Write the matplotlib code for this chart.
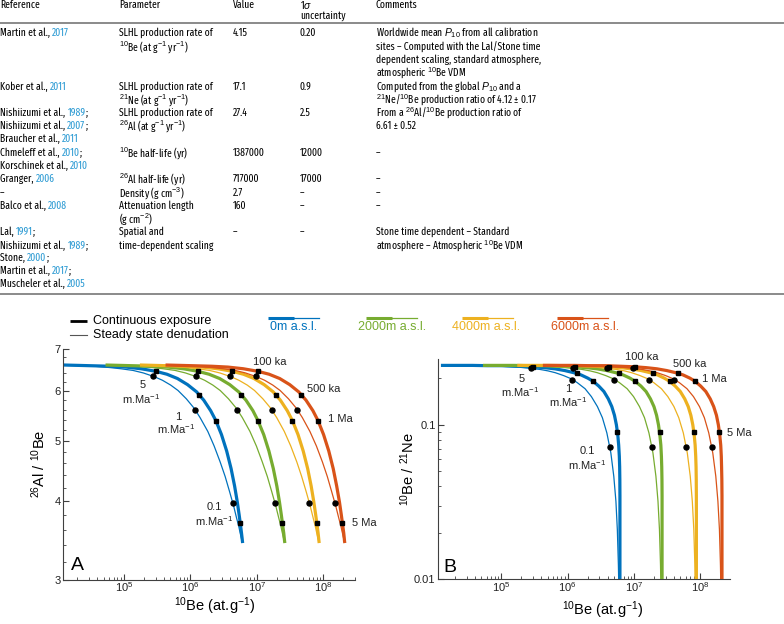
import numpy as np
import matplotlib
matplotlib.use('Agg')
import matplotlib.pyplot as plt
from matplotlib.ticker import LogLocator, FixedLocator, NullFormatter, LogFormatterMathtext, FormatStrFormatter

# ---------------- data ----------------
altitudes = ['0m a.s.l.', '2000m a.s.l.', '4000m a.s.l.', '6000m a.s.l.']
colors = ['#0072BD', '#77AC30', '#EDB120', '#D95319']

# continuous exposure (thick lines): 10Be (at/g) for each altitude
be10_exposure = [
    [1.23e4, 2.15e4, 3.67e4, 6.11e4, 1.07e5, 1.81e5, 3e5, 4.44e5, 6.4e5, 9.08e5, 1.24e6, 1.59e6, 2.02e6, 2.42e6,
     2.94e6, 3.52e6, 4.1e6, 4.63e6, 5.08e6, 5.43e6, 5.69e6, 5.88e6, 6.01e6, 6.08e6, 6.12e6, 6.14e6, 6.14e6,
     6.14e6, 6.14e6, 6.14e6, 6.14e6],
    [5.29e4, 9.25e4, 1.58e5, 2.63e5, 4.59e5, 7.83e5, 1.29e6, 1.91e6, 2.76e6, 3.92e6, 5.33e6, 6.86e6, 8.73e6, 1.04e7,
     1.27e7, 1.52e7, 1.77e7, 2e7, 2.19e7, 2.34e7, 2.45e7, 2.54e7, 2.59e7, 2.62e7, 2.64e7, 2.65e7, 2.65e7,
     2.65e7, 2.65e7, 2.65e7, 2.65e7],
    [1.74e5, 3.04e5, 5.21e5, 8.67e5, 1.51e6, 2.58e6, 4.25e6, 6.3e6, 9.08e6, 1.29e7, 1.76e7, 2.26e7, 2.87e7, 3.43e7,
     4.17e7, 4.99e7, 5.82e7, 6.57e7, 7.2e7, 7.7e7, 8.07e7, 8.35e7, 8.52e7, 8.62e7, 8.68e7, 8.71e7, 8.72e7,
     8.72e7, 8.72e7, 8.72e7, 8.72e7],
    [4.23e5, 7.39e5, 1.27e6, 2.11e6, 3.67e6, 6.25e6, 1.03e7, 1.53e7, 2.21e7, 3.13e7, 4.26e7, 5.49e7, 6.98e7, 8.33e7,
     1.01e8, 1.21e8, 1.41e8, 1.59e8, 1.75e8, 1.87e8, 1.96e8, 2.03e8, 2.07e8, 2.09e8, 2.11e8, 2.12e8, 2.12e8,
     2.12e8, 2.12e8, 2.12e8, 2.12e8],
]
al_be_exposure = [6.6, 6.59, 6.58, 6.57, 6.55, 6.51, 6.45, 6.38, 6.28, 6.14, 5.98, 5.8, 5.58, 5.38, 5.11, 4.81,
                  4.51, 4.23, 3.99, 3.8, 3.66, 3.56, 3.49, 3.45, 3.43, 3.42, 3.41, 3.41, 3.41, 3.41, 3.41]
be_ne_exposure = [0.242, 0.242, 0.242, 0.241, 0.241, 0.239, 0.237, 0.234, 0.23, 0.224, 0.217, 0.21, 0.2, 0.191,
                  0.178, 0.164, 0.147, 0.131, 0.115, 0.0998, 0.0864, 0.0738, 0.0625, 0.0534, 0.044, 0.0347,
                  0.027, 0.0202, 0.0152, 0.011, 0.00809]
n_exposure_a = 25  # panel A stops the exposure curves at ~10 Ma

# steady state denudation (thin lines)
be10_steady = [
    [1.40e4, 2.27e4, 3.62e4, 6.01e4, 8.98e4, 1.37e5, 1.96e5, 2.90e5, 3.80e5, 5.06e5, 6.52e5, 8.68e5, 1.14e6,
     1.40e6, 1.83e6, 2.28e6, 2.81e6, 3.34e6, 3.90e6, 4.48e6, 4.96e6, 5.34e6, 5.61e6, 5.82e6, 5.94e6],
    [6.02e4, 9.77e4, 1.56e5, 2.59e5, 3.87e5, 5.9e5, 8.44e5, 1.25e6, 1.64e6, 2.18e6, 2.81e6, 3.74e6, 4.92e6,
     6.05e6, 7.88e6, 9.85e6, 1.21e7, 1.44e7, 1.68e7, 1.93e7, 2.14e7, 2.3e7, 2.42e7, 2.51e7, 2.56e7],
    [1.98e5, 3.22e5, 5.13e5, 8.52e5, 1.27e6, 1.94e6, 2.78e6, 4.1e6, 5.38e6, 7.18e6, 9.23e6, 1.23e7, 1.62e7,
     1.99e7, 2.59e7, 3.24e7, 4e7, 4.73e7, 5.54e7, 6.36e7, 7.05e7, 7.57e7, 7.97e7, 8.27e7, 8.44e7],
    [4.81e5, 7.81e5, 1.25e6, 2.07e6, 3.09e6, 4.72e6, 6.75e6, 9.96e6, 1.31e7, 1.74e7, 2.24e7, 2.99e7, 3.93e7,
     4.84e7, 6.29e7, 7.88e7, 9.71e7, 1.15e8, 1.34e8, 1.54e8, 1.71e8, 1.84e8, 1.94e8, 2.01e8, 2.05e8],
]
al_be_steady = [6.59, 6.58, 6.57, 6.54, 6.51, 6.47, 6.41, 6.32, 6.24, 6.13, 6.01, 5.83, 5.63, 5.44, 5.17, 4.9,
                4.62, 4.38, 4.14, 3.93, 3.76, 3.65, 3.56, 3.5, 3.47]
be_ne_steady = [0.242, 0.242, 0.241, 0.24, 0.239, 0.237, 0.235, 0.231, 0.228, 0.223, 0.217, 0.208, 0.198, 0.187,
                0.171, 0.152, 0.131, 0.111, 0.0885, 0.0657, 0.0464, 0.032, 0.021, 0.0124, 0.00793]

# markers: 100 ka, 500 ka, 1 Ma, 5 Ma (squares) and 5, 1, 0.1 m/Ma (circles)
mark_be10_exposure = [[3e5, 1.36e6, 2.42e6, 5.64e6], [1.29e6, 5.86e6, 1.04e7, 2.43e7],
                      [4.25e6, 1.93e7, 3.43e7, 8e7], [1.03e7, 4.68e7, 8.33e7, 1.94e8]]
mark_al_be_exposure = [6.45, 5.92, 5.38, 3.69]
mark_be_ne_exposure = [0.237, 0.215, 0.191, 0.0891]
mark_be10_steady = [[2.78e5, 1.18e6, 4.32e6], [1.2e6, 5.07e6, 1.86e7],
                    [3.94e6, 1.67e7, 6.13e7], [9.58e6, 4.06e7, 1.49e8]]
mark_al_be_steady = [6.33, 5.6, 3.98]
mark_be_ne_steady = [0.232, 0.196, 0.072]

# ---------------- table text ----------------
refs = [(33, 'Martin et al., ', '2017', ''), (87, 'Kober et al., ', '2011', ''),
        (113, 'Nishiizumi et al., ', '1989', ';'), (126, 'Nishiizumi et al., ', '2007', ';'),
        (139, 'Braucher et al., ', '2011', ''), (153, 'Chmeleff et al., ', '2010', ';'),
        (166, 'Korschinek et al., ', '2010', ''), (179, 'Granger, ', '2006', ''),
        (193, '–', '', ''), (206, 'Balco et al., ', '2008', ''), (232, 'Lal, ', '1991', ';'),
        (246, 'Nishiizumi et al., ', '1989', ';'), (258, 'Stone, ', '2000', ';'),
        (271, 'Martin et al., ', '2017', ';'), (284, 'Muscheler et al., ', '2005', '')]
params = [(33, 'SLHL production rate of'), (47, r'$^{10}$Be (at g$^{-1}$ yr$^{-1}$)'),
          (87, 'SLHL production rate of'), (100, r'$^{21}$Ne (at g$^{-1}$ yr$^{-1}$)'),
          (113, 'SLHL production rate of'), (126, r'$^{26}$Al (at g$^{-1}$ yr$^{-1}$)'),
          (153, r'$^{10}$Be half-life (yr)'), (179, r'$^{26}$Al half-life (yr)'),
          (193, r'Density (g cm$^{-3}$)'), (206, 'Attenuation length'), (219, r'(g cm$^{-2}$)'),
          (232, 'Spatial and'), (246, 'time-dependent scaling')]
values = [(33, '4.15'), (87, '17.1'), (113, '27.4'), (153, '1387000'), (179, '717000'),
          (193, '2.7'), (206, '160'), (232, '–')]
sigmas = [(33, '0.20'), (87, '0.9'), (113, '2.5'), (153, '12000'), (179, '17000'),
          (193, '–'), (206, '–'), (232, '–')]
comments = [(33, r'Worldwide mean $P_{10}$ from all calibration'), (47, 'sites – Computed with the Lal/Stone time'),
            (60, 'dependent scaling, standard atmosphere,'), (73, r'atmospheric $^{10}$Be VDM'),
            (87, r'Computed from the global $P_{10}$ and a'),
            (100, r'$^{21}$Ne/$^{10}$Be production ratio of 4.12 ± 0.17'),
            (113, r'From a $^{26}$Al/$^{10}$Be production ratio of'), (126, '6.61 ± 0.52'),
            (153, '–'), (179, '–'), (193, '–'), (206, '–'),
            (232, 'Stone time dependent – Standard'), (246, r'atmosphere – Atmospheric $^{10}$Be VDM')]

cite_blue = '#2b9ad3'
table_font = 'Fira Sans Extra Condensed'

plt.rcParams['font.family'] = ['Liberation Sans', 'DejaVu Sans']
plt.rcParams['mathtext.fontset'] = 'custom'
plt.rcParams['mathtext.rm'] = 'Liberation Sans'
plt.rcParams['mathtext.it'] = 'Liberation Sans:italic'
plt.rcParams['mathtext.bf'] = 'Liberation Sans:bold'

fig = plt.figure(figsize=(7.84, 6.24), dpi=100)
# overlay in pixel coordinates for the table, legend and labels
ov = fig.add_axes([0, 0, 1, 1])
ov.set_xlim(0, 784)
ov.set_ylim(624, 0)
ov.axis('off')
renderer = fig.canvas.get_renderer()

# ---- table ----
ts = 7.5
for x, s in [(0, 'Reference'), (119, 'Parameter'), (233, 'Value'), (300, r'1$\sigma$'), (376, 'Comments')]:
    ov.text(x, 5, s, fontsize=ts, family=table_font, va='center')
ov.text(300, 16, 'uncertainty', fontsize=ts, family=table_font, va='center')
ov.plot([0, 784], [23, 23], color='#8a8a8a', lw=1.4)
ov.plot([0, 784], [294, 294], color='#8a8a8a', lw=1.4)

for y, pre, year, post in refs:
    ov.text(0, y, pre, fontsize=ts, family=table_font, va='center')
    if year:
        full = ov.text(0, y, pre + year, fontsize=ts, family=table_font, va='center', alpha=0)
        xe = full.get_window_extent(renderer).x1
        ov.text(xe, y, year, fontsize=ts, family=table_font, va='center', ha='right', color=cite_blue)
        if post:
            ov.text(xe, y, post, fontsize=ts, family=table_font, va='center')

for x, col in [(119, params), (233, values), (300, sigmas), (376, comments)]:
    for y, s in col:
        ov.text(x, y, s, fontsize=ts, family=table_font, va='center')

# ---- legend ----
ov.plot([70, 87], [321, 321], color='k', lw=2.0, solid_capstyle='butt')
ov.plot([70, 87], [335, 335], color='#555555', lw=0.8)
ov.text(93, 321, 'Continuous exposure', fontsize=9, va='center')
ov.text(93, 335, 'Steady state denudation', fontsize=9, va='center')
for c, x0, xt, name in zip(colors, [268, 366, 462, 557], [294, 392, 486, 585], altitudes):
    ov.plot([x0, x0 + 26], [318, 318], color=c, lw=2.2, solid_capstyle='butt')
    ov.plot([x0 + 26, x0 + 51], [318, 318], color=c, lw=0.9)
    ov.text(xt, 327, name, fontsize=9, color=c, ha='center', va='center')

# ---- panels ----
ax_a = fig.add_axes([62.7 / 784, 1 - 579.5 / 624, 292.3 / 784, 230.5 / 624])
ax_b = fig.add_axes([437.7 / 784, 1 - 579.3 / 624, 292.3 / 784, 220 / 624])

for i in range(4):
    ax_a.plot(be10_exposure[i][:n_exposure_a], al_be_exposure[:n_exposure_a], color=colors[i], lw=2.3,
              solid_capstyle='butt', zorder=2 + i)
    ax_b.plot(be10_exposure[i], be_ne_exposure, color=colors[i], lw=2.3, solid_capstyle='butt', zorder=2 + i)
    ax_a.plot(be10_steady[i], al_be_steady, color=colors[i], lw=0.9, zorder=2 + i)
    ax_b.plot(be10_steady[i], be_ne_steady, color=colors[i], lw=0.9, zorder=2 + i)
    ax_a.plot(mark_be10_exposure[i], mark_al_be_exposure, 's', color='k', ms=3.3, zorder=10)
    ax_b.plot(mark_be10_exposure[i], mark_be_ne_exposure, 's', color='k', ms=3.3, zorder=10)
    ax_a.plot(mark_be10_steady[i], mark_al_be_steady, 'o', color='k', ms=3.6, zorder=10)
    ax_b.plot(mark_be10_steady[i], mark_be_ne_steady, 'o', color='k', ms=3.6, zorder=10)

for ax in (ax_a, ax_b):
    ax.set_xscale('log')
    ax.set_yscale('log')
    for sp in ('top', 'right'):
        ax.spines[sp].set_visible(False)
    for sp in ('left', 'bottom'):
        ax.spines[sp].set_color('#404040')
        ax.spines[sp].set_linewidth(0.8)
    ax.tick_params(which='both', direction='in', colors='#404040', labelcolor='#222222', labelsize=8, pad=1.5)
    ax.tick_params(axis='x', which='both', pad=0.5)
    ax.tick_params(which='major', length=4)
    ax.tick_params(which='minor', length=2)
    ax.xaxis.set_major_locator(FixedLocator([1e5, 1e6, 1e7, 1e8]))
    ax.xaxis.set_major_formatter(LogFormatterMathtext())
    ax.xaxis.set_minor_locator(LogLocator(subs=np.arange(2, 10), numticks=20))
    ax.xaxis.set_minor_formatter(NullFormatter())
    ax.patch.set_alpha(0)

ax_a.set_xlim(1.2e4, 3e8)
ax_a.set_ylim(3, 7)
ax_a.yaxis.set_major_locator(FixedLocator([3, 4, 5, 6, 7]))
ax_a.yaxis.set_major_formatter(FormatStrFormatter('%d'))
ax_a.yaxis.set_minor_locator(FixedLocator(np.arange(3.2, 7, 0.2)))
ax_a.yaxis.set_minor_formatter(NullFormatter())
ax_b.set_xlim(1.1e4, 2.8e8)
ax_b.set_ylim(0.01, 0.265)
ax_b.yaxis.set_major_locator(FixedLocator([0.01, 0.1]))
ax_b.yaxis.set_major_formatter(FormatStrFormatter('%g'))
ax_b.yaxis.set_minor_locator(LogLocator(subs=np.arange(2, 10), numticks=20))
ax_b.yaxis.set_minor_formatter(NullFormatter())

mma = r'm.Ma$^{-1}$'
for x, y, s, ha in [(270, 362, '100 ka', 'center'), (307, 389, '500 ka', 'left'), (328, 419, '1 Ma', 'left'),
                    (352, 523, '5 Ma', 'left'), (143, 385, '5', 'center'), (141, 399, mma, 'center'),
                    (178, 417, '1', 'center'), (176, 429, mma, 'center'), (214, 507, '0.1', 'center'),
                    (214, 521, mma, 'center'),
                    (642, 357, '100 ka', 'center'), (690, 364, '500 ka', 'center'), (702, 379, '1 Ma', 'left'),
                    (727, 433, '5 Ma', 'left'), (522, 379, '5', 'center'), (520, 392, mma, 'center'),
                    (568, 389, '1', 'center'), (568, 402, mma, 'center'), (587, 451, '0.1', 'center'),
                    (587, 465, mma, 'center')]:
    ov.text(x, y, s, fontsize=8, ha=ha, va='center', color='#222222')
ov.text(77, 565, 'A', fontsize=14, ha='center', va='center')
ov.text(450, 567, 'B', fontsize=14, ha='center', va='center')
ov.text(39, 464, r'$^{26}$Al / $^{10}$Be', fontsize=10.5, rotation=90, ha='center', va='center')
ov.text(215, 606, r'$^{10}$Be (at.g$^{-1}$)', fontsize=10.5, ha='center', va='center')
ov.text(408, 469, r'$^{10}$Be / $^{21}$Ne', fontsize=10.5, rotation=90, ha='center', va='center')
ov.text(603, 610, r'$^{10}$Be (at.g$^{-1}$)', fontsize=10.5, ha='center', va='center')

fig.savefig('out.png', dpi=100)
